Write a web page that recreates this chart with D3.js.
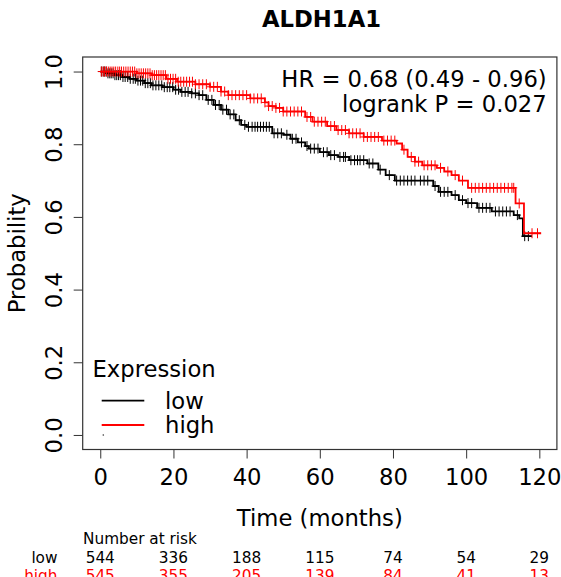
<!DOCTYPE html>
<html><head><meta charset="utf-8">
<script src="https://cdn.jsdelivr.net/npm/d3@7"></script>
<style>body{margin:0;background:#fff}svg{display:block}text{font-family:"DejaVu Sans",sans-serif}</style>
</head><body>
<script>
const title = "ALDH1A1";
const xTicks = [0,20,40,60,80,100,120];
const yTicks = [0,0.2,0.4,0.6,0.8,1.0];
const groups = ["low","high"];
const colors = ["#000000","#FF0000"];
const riskLow  = [544,336,188,115,74,54,29];
const riskHigh = [545,355,205,139,84,41,13];
const hrText = "HR = 0.68 (0.49 - 0.96)";
const pText = "logrank P = 0.027";

// step points [time, survival]
const lowSteps = [[0,1],[2,0.995],[4,0.99],[6,0.985],[8,0.98],[10,0.975],[12,0.968],[14,0.962],[17,0.957],[20,0.95],[22,0.944],[25,0.94],[27,0.935],[29,0.922],[31,0.908],[33,0.895],[35,0.882],[37,0.866],[38.5,0.853],[40,0.848],[47,0.83],[50,0.826],[52,0.815],[54,0.805],[56,0.795],[57,0.788],[60,0.778],[62.5,0.77],[65,0.765],[68,0.756],[73,0.747],[76,0.73],[78,0.715],[80.5,0.70],[91,0.685],[92.5,0.669],[96,0.66],[98,0.646],[100,0.638],[103,0.625],[107,0.615],[113,0.605],[114.5,0.596],[115.5,0.547]];
const lowEnd = 118;
const highSteps = [[0,1],[10,0.995],[14,0.99],[18,0.98],[21,0.972],[26,0.965],[30,0.958],[33,0.945],[35,0.935],[41,0.926],[45,0.915],[46,0.905],[48,0.9],[50,0.89],[56,0.875],[58,0.862],[62,0.85],[64.5,0.839],[68,0.83],[72,0.82],[77,0.81],[81,0.802],[82.5,0.785],[84,0.765],[86,0.752],[88,0.742],[92,0.735],[94,0.725],[96,0.715],[98,0.7],[100.5,0.68],[113.5,0.637],[115.8,0.555]];
const highEnd = 120.5;

const lowCensor = [0.3,0.8,1.2,1.6,2.1,2.6,3,3.5,4,4.5,5,5.5,6.2,6.8,7.5,8.2,9,9.6,10.3,11,11.6,12.3,13,13.7,14.4,15.2,16,16.8,17.5,18.3,19,19.8,20.6,21.4,22.3,23.2,24,25,26,27,28,29.5,30.5,31.5,32.5,33.5,34.5,35.5,36.5,38,39.5,40.5,41.5,42.3,43,43.8,44.6,45.4,46.2,47.5,48.5,49.5,51,52.5,53.5,55,56.5,57.5,58.5,59.5,61,62,63,64,65.5,66.5,67,68.5,69.5,70.3,71,72,73.5,74.5,76.5,79,81,82,83,84,85,86,87.5,88.5,89.5,91.5,93,94,95,97,99,100.5,101.5,103.5,104.5,105.5,106.5,108,109,110,111,112,114,116,117];
const highCensor = [0.3,0.8,1.2,1.7,2.2,2.7,3.2,3.7,4.2,4.8,5.3,5.8,6.4,7,7.6,8.2,8.8,9.4,10,10.6,11.2,11.8,12.4,13,13.6,14.2,14.8,15.4,16,16.6,17.2,17.8,18.5,19.2,19.9,20.6,21.3,22,22.8,23.6,24.4,25.2,26,27,28,29,30,31,32,33,34,35,36,37,38,39,40,41,42,43,44,45,46,47,48,49,50,51,52,53,54,55,56.5,57.5,58.5,59.5,60.5,61.5,63,64,65,66,67,68,69,70,71,72,73,74,75,76,77.5,78.5,79.5,80.5,83,85,86,87,88.5,89.5,90.5,91.5,93,95,97,99,101.5,102.5,103.5,104.5,105.5,106.5,107.5,108.5,109.5,110.5,111.5,112.5,113,114.5,118,119.5];

const W = 561, H = 577;
const L = 82.7, R = 556.9, T = 57, B = 449.5;
const FS = 22.7, FSS = 15.3;

const svg = d3.select("body").append("svg").attr("width", W).attr("height", H);
const x = d3.scaleLinear().domain([-4.8,124.8]).range([L,R]);
const y = d3.scaleLinear().domain([-0.04,1.04]).range([B,T]);

svg.append("text").attr("x",321.5).attr("y",26.7).attr("text-anchor","middle")
  .attr("font-weight","bold").attr("font-size",FS).text(title);

// axes
const xa = svg.append("g").attr("transform",`translate(0,${B})`)
  .call(d3.axisBottom(x).tickValues(xTicks).tickSize(9).tickFormat(d3.format("d")));
xa.select(".domain").remove();
xa.selectAll("line").attr("stroke","#333");
xa.selectAll("text").attr("dy",null).attr("y",35).attr("font-size",FS).attr("font-family","DejaVu Sans").attr("fill","#000");

const ya = svg.append("g").attr("transform",`translate(${L},0)`)
  .call(d3.axisLeft(y).tickValues(yTicks).tickSize(9).tickFormat(d3.format(".1f")));
ya.select(".domain").remove();
ya.selectAll("line").attr("stroke","#333");
ya.selectAll("text").attr("dy",null).attr("x",0).attr("y",-20.5)
  .attr("transform","rotate(-90)").attr("text-anchor","middle")
  .attr("font-size",FS).attr("font-family","DejaVu Sans").attr("fill","#000");

svg.append("rect").attr("x",L).attr("y",T).attr("width",R-L).attr("height",B-T)
  .attr("fill","none").attr("stroke","#333").attr("stroke-width",1.2);

svg.append("text").attr("transform",`translate(25,${(T+B)/2}) rotate(-90)`)
  .attr("text-anchor","middle").attr("font-size",FS).text("Probability");
svg.append("text").attr("x",(L+R)/2).attr("y",526).attr("text-anchor","middle")
  .attr("font-size",FS).text("Time (months)");

// curves
const line = d3.line().x(d=>x(d[0])).y(d=>y(d[1])).curve(d3.curveStepAfter);
function stepAt(steps,t){let v=steps[0][1];for(const s of steps){if(s[0]<=t)v=s[1];}return v;}
const series = [[lowSteps,lowEnd,lowCensor],[highSteps,highEnd,highCensor]];
series.forEach(([steps,end,cens],i)=>{
  const pts = steps.concat([[end, steps[steps.length-1][1]]]);
  svg.append("path").attr("d",line(pts)).attr("fill","none").attr("stroke",colors[i]).attr("stroke-width",1.8);
  const g = svg.append("g").attr("stroke",colors[i]).attr("stroke-width",1);
  cens.forEach(t=>{
    const cx = x(t), cy = y(stepAt(steps,t));
    g.append("line").attr("x1",cx-3.5).attr("x2",cx+3.5).attr("y1",cy).attr("y2",cy);
    g.append("line").attr("x1",cx).attr("x2",cx).attr("y1",cy-5).attr("y2",cy+5);
  });
});

// HR text
svg.append("text").attr("x",546.7).attr("y",86.7).attr("text-anchor","end").attr("font-size",FS).text(hrText);
svg.append("text").attr("x",546.7).attr("y",111.7).attr("text-anchor","end").attr("font-size",FS).text(pText);

// legend
svg.append("text").attr("x",92.5).attr("y",376.7).attr("font-size",FS).text("Expression");
groups.forEach((gname,i)=>{
  const yy = 400.7 + i*24.3;
  svg.append("line").attr("x1",101.7).attr("x2",144.3).attr("y1",yy).attr("y2",yy)
    .attr("stroke",colors[i]).attr("stroke-width",1.8);
  svg.append("text").attr("x",165).attr("y",yy+8).attr("font-size",FS).text(gname);
});
svg.append("circle").attr("cx",103.3).attr("cy",435).attr("r",0.8).attr("fill","#333");

// risk table
svg.append("text").attr("x",83).attr("y",543.8).attr("font-size",FSS).text("Number at risk");
[[riskLow,0],[riskHigh,1]].forEach(([vals,i])=>{
  const yy = 563.4 + i*17.3;
  svg.append("text").attr("x",57.5).attr("y",yy).attr("text-anchor","end")
    .attr("font-size",FSS).attr("fill",colors[i]).text(groups[i]);
  vals.forEach((v,j)=>{
    svg.append("text").attr("x",x(xTicks[j])).attr("y",yy).attr("text-anchor","middle")
      .attr("font-size",FSS).attr("fill",colors[i]).text(v);
  });
});
</script>
</body></html>
